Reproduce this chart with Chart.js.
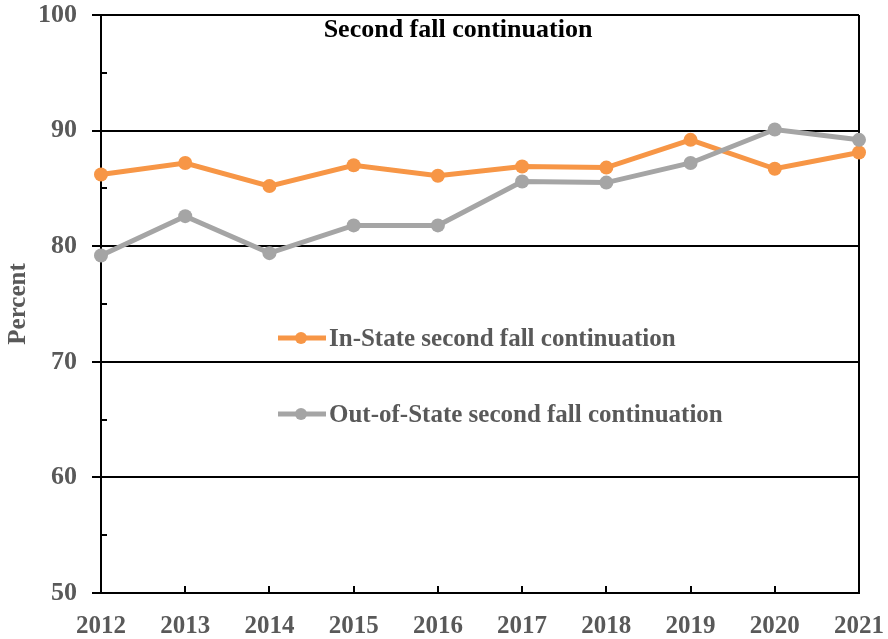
<!DOCTYPE html>
<html>
<head>
<meta charset="utf-8">
<script src="https://cdn.jsdelivr.net/npm/chart.js@4.4.1/dist/chart.umd.min.js"></script>
<style>
  html, body { margin: 0; padding: 0; background: #fff; }
  #wrap { width: 888px; height: 639px; }
</style>
</head>
<body>
<div id="wrap"><canvas id="chart"></canvas></div>
<script>
const years = ['2012', '2013', '2014', '2015', '2016', '2017', '2018', '2019', '2020', '2021'];
const inState = [86.2, 87.2, 85.2, 87.0, 86.1, 86.9, 86.8, 89.2, 86.7, 88.1];
const outOfState = [79.2, 82.6, 79.4, 81.8, 81.8, 85.6, 85.5, 87.2, 90.1, 89.2];
const seriesNames = ['In-State second fall continuation', 'Out-of-State second fall continuation'];
const yTicks = [50, 60, 70, 80, 90, 100];
const yMinorTicks = [55, 65, 75, 85, 95];
const chartTitle = 'Second fall continuation';

const serif = '"Liberation Serif", "Times New Roman", serif';
const orange = '#F79646';
const gray = '#A5A5A5';
const textGray = '#595959';

// title, legend and inward tick marks drawn on top of the plot
const extras = {
  id: 'extras',
  afterDraw(chart) {
    const { ctx, chartArea } = chart;
    const x = chart.scales.x;
    const y = chart.scales.y;
    ctx.save();
    ctx.strokeStyle = '#000';
    ctx.lineWidth = 2;
    yMinorTicks.forEach((v) => {
      const py = Math.round(y.getPixelForValue(v));
      ctx.beginPath();
      ctx.moveTo(chartArea.left, py);
      ctx.lineTo(chartArea.left + 6, py);
      ctx.stroke();
    });
    for (let i = 1; i < years.length - 1; i++) {
      const px = Math.round(x.getPixelForValue(i));
      ctx.beginPath();
      ctx.moveTo(px, chartArea.bottom);
      ctx.lineTo(px, chartArea.bottom - 7);
      ctx.stroke();
    }

    ctx.fillStyle = '#000';
    ctx.font = 'bold 26px ' + serif;
    ctx.textAlign = 'center';
    ctx.textBaseline = 'alphabetic';
    ctx.fillText(chartTitle, chartArea.left + 357, chartArea.top + 22);

    ctx.font = 'bold 25px ' + serif;
    ctx.textAlign = 'left';
    chart.data.datasets.forEach((ds, i) => {
      const my = chartArea.top + 323 + i * 76;
      const lx = chartArea.left + 177;
      ctx.strokeStyle = ds.borderColor;
      ctx.lineWidth = 5;
      ctx.beginPath();
      ctx.moveTo(lx, my);
      ctx.lineTo(lx + 48, my);
      ctx.stroke();
      ctx.fillStyle = ds.borderColor;
      ctx.beginPath();
      ctx.arc(lx + 23, my, 6, 0, Math.PI * 2);
      ctx.fill();
      ctx.fillStyle = textGray;
      ctx.fillText(ds.label, lx + 51, my + 8);
    });
    ctx.restore();
  },
};

new Chart(document.getElementById('chart'), {
  type: 'line',
  data: {
    labels: years,
    datasets: [
      {
        label: seriesNames[0],
        data: inState,
        borderColor: orange,
        backgroundColor: orange,
        borderWidth: 5,
        pointRadius: 7,
        pointBorderWidth: 0,
        order: 1,
      },
      {
        label: seriesNames[1],
        data: outOfState,
        borderColor: gray,
        backgroundColor: gray,
        borderWidth: 5,
        pointRadius: 7,
        pointBorderWidth: 0,
        order: 0,
      },
    ],
  },
  options: {
    responsive: true,
    maintainAspectRatio: false,
    animation: false,
    layout: { padding: { top: 15, right: 29, left: 0, bottom: 0 } },
    plugins: {
      legend: { display: false },
      tooltip: { enabled: false },
      title: { display: false },
    },
    scales: {
      x: {
        offset: false,
        grid: {
          drawTicks: false,
          lineWidth: 2,
          color: (c) => (c.index === years.length - 1 ? '#000' : 'rgba(0,0,0,0)'),
        },
        border: { display: true, color: '#000', width: 2 },
        ticks: {
          color: textGray,
          padding: 19,
          maxRotation: 0,
          autoSkip: false,
          font: { family: serif, size: 25, weight: 'bold' },
        },
        afterFit: (scale) => {
          scale.height = 46;
          scale.paddingLeft = 0;
          scale.paddingRight = 0;
        },
      },
      y: {
        min: 50,
        max: 100,
        afterBuildTicks: (scale) => {
          scale.ticks = yTicks.map((v) => ({ value: v }));
        },
        grid: { color: '#000', lineWidth: 2, tickLength: 9 },
        border: { display: true, color: '#000', width: 2 },
        ticks: {
          color: textGray,
          padding: 15,
          font: { family: serif, size: 26, weight: 'bold' },
        },
        title: {
          display: true,
          text: 'Percent',
          color: textGray,
          padding: { top: 4, bottom: 0 },
          font: { family: serif, size: 25, weight: 'bold' },
        },
        afterFit: (scale) => {
          scale.width = 101;
          scale.paddingTop = 0;
          scale.paddingBottom = 0;
        },
      },
    },
  },
  plugins: [extras],
});
</script>
</body>
</html>
